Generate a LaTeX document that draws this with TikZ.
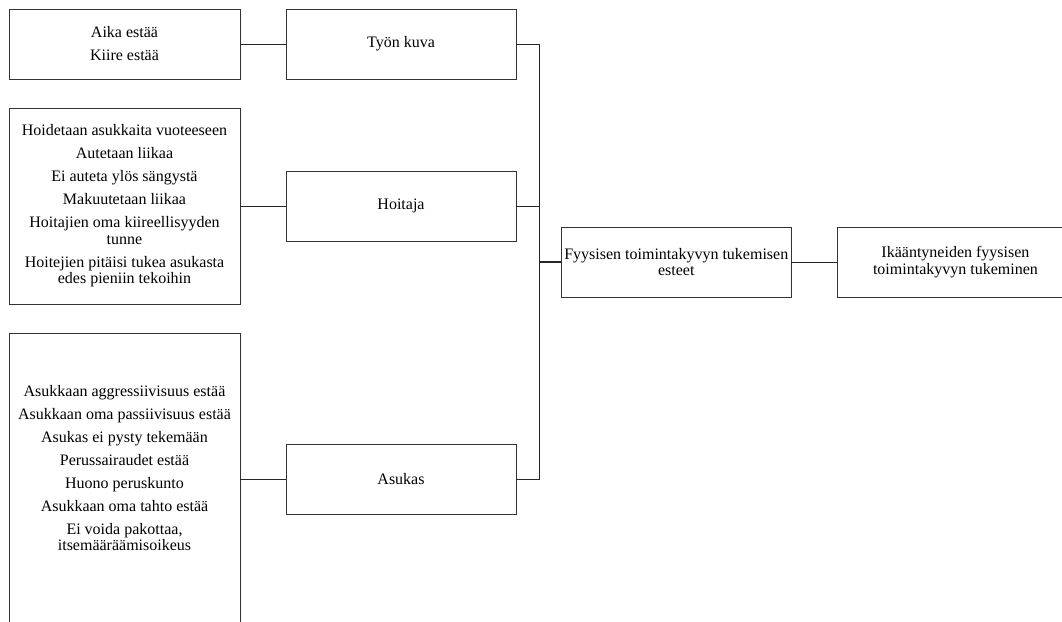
\documentclass[tikz,border=0pt]{standalone}
\usepackage{fontspec}
\setmainfont{Liberation Serif}
\begin{document}
\begin{tikzpicture}[x=1pt,y=-1pt,
  txt/.style={inner sep=0pt, align=center, font=\fontsize{16}{16.5}\selectfont},
  box/.style={txt, draw=black!80, line width=0.9pt, minimum width=230pt, minimum height=70pt},
  conn/.style={draw=black!85, line width=0.9pt},
  bold conn/.style={conn, line width=1.7pt}]
\useasboundingbox (0,0) rectangle (1062,621);
\clip (0,0) rectangle (1062,621);
\coordinate (bus) at (539,0);
% left column
\node[box, minimum width=231pt] (aika) at (124.5,44) {Aika estää\\[6.5pt]Kiire estää};
\node[box, minimum width=231pt, minimum height=196pt] (hlist) at (124.5,206)
  {Hoidetaan asukkaita vuoteeseen\\[6.5pt]
   Autetaan liikaa\\[6.5pt]
   Ei auteta ylös sängystä\\[6.5pt]
   Makuutetaan liikaa\\[6.5pt]
   Hoitajien oma kiireellisyyden\\tunne\\[6.5pt]
   Hoitejien pitäisi tukea asukasta\\edes pieniin tekoihin};
\node[box, minimum width=231pt, minimum height=400pt, anchor=north] (alist) at (124.5,333) {};
\node[txt] (alisttext) at (124.5,468)
  {Asukkaan aggressiivisuus estää\\[6.5pt]
   Asukkaan oma passiivisuus estää\\[6.5pt]
   Asukas ei pysty tekemään\\[6.5pt]
   Perussairaudet estää\\[6.5pt]
   Huono peruskunto\\[6.5pt]
   Asukkaan oma tahto estää\\[6.5pt]
   Ei voida pakottaa,\\itsemääräämisoikeus};
% middle column
\node[box] (tyon) at (401,44) {Työn kuva};
\node[box] (hoitaja) at (401,206) {Hoitaja};
\node[box] (asukas) at (401,479) {Asukas};
% right
\node[box, minimum width=229.5pt] (fyys) at (676.25,262) {Fyysisen toimintakyvyn tukemisen\\esteet};
\node[box, minimum width=236pt, anchor=west] (ika) at (837,262) {Ikääntyneiden fyysisen\\toimintakyvyn tukeminen};
% connectors
\draw[conn] (aika.east) -- (tyon.west);
\draw[conn] (hlist.east) -- (hoitaja.west);
\draw[conn] (asukas.west) -- (asukas.west -| alist.east);
\draw[conn] (tyon.east) -- (tyon.east -| bus) |- (asukas.east);
\draw[conn] (hoitaja.east) -- (hoitaja.east -| bus);
\draw[bold conn] (fyys.west -| bus) -- (fyys.west);
\draw[conn] (fyys.east) -- (ika.west);
\end{tikzpicture}
\end{document}
